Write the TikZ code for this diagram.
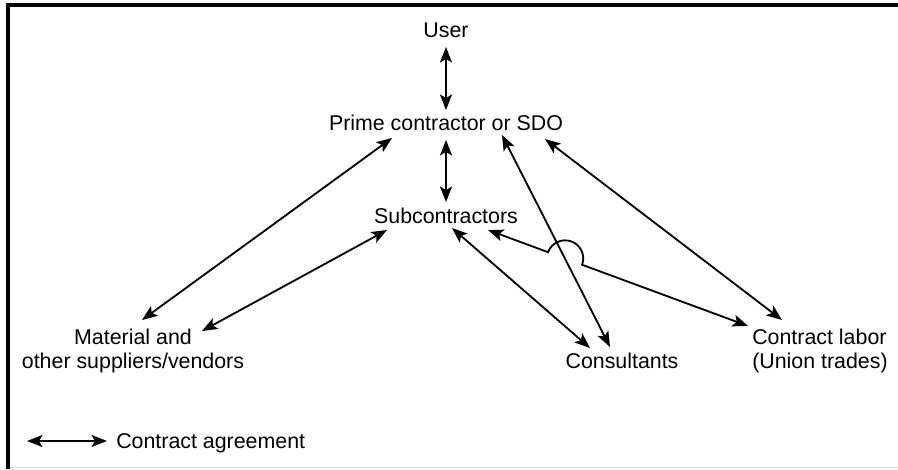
\documentclass[tikz,border=0pt]{standalone}
\usepackage{fontspec}
\setmainfont{Liberation Sans}
\usetikzlibrary{arrows.meta,calc}

\begin{document}
\begin{tikzpicture}[x=0.025cm, y=0.025cm,
  agree/.style={{Stealth[length=11pt,width=8.5pt,inset=2.5pt]}-{Stealth[length=11pt,width=8.5pt,inset=2.5pt]}, line width=1.3pt},
  party/.style={font=\fontsize{15.2}{16.4}\selectfont, inner sep=0pt, anchor=base}]
\useasboundingbox (0,0) rectangle (898,469);

%frame
\draw[gray!25, line width=0.6pt] (8,2) -- (898,2);
\draw[line width=2.2pt] (8,0) -- (8,464) -- (898,464);

%parties
\node[party] (user) at (446,431) {User};
\node[party] (prime) at (446,339) {Prime contractor or SDO};
\node[party] (sub) at (446,246) {Subcontractors};
\node[party, align=center] (mat) at (133,101) {Material and\\other suppliers/vendors};
\node[party] (cons) at (622,101) {Consultants};
\node[party, anchor=base west, align=left] (lab) at (752,101) {Contract labor\\(Union trades)};

%key
\node[party, anchor=base west] (key) at (116,21) {Contract agreement};
\coordinate (keyend) at (27,28);

%agreements
\draw[agree] ($(user.base)+(0,-9)$) -- ($(prime.base)+(0,20)$);
\draw[agree] ($(prime.base)+(0,-10)$) -- ($(sub.base)+(0,21)$);
\draw[agree] ($(prime.base)+(-54,-8)$) -- ($(mat.base)+(9,48)$);
\draw[agree] ($(sub.base)+(-59,-7)$) -- ($(mat.base)+(69,37)$);
\draw[agree] ($(sub.base)+(6,-5)$) -- ($(cons.base)+(-32,20)$);
\draw[agree] ($(prime.base)+(56,-5)$) -- ($(cons.base)+(-12,21)$);
\draw[agree] ($(prime.base)+(99,-9)$) -- ($(lab.base west)+(30,48)$);
\draw[agree] ($(sub.base)+(42,-7)$) -- ($($(sub.base)+(42,-7)$)!0.231!($(lab.base west)+(-4,42)$)$)
  arc[start angle=159.7, end angle=-20.3, radius=18.15] -- ($(lab.base west)+(-4,42)$);
\draw[agree] (keyend) -- ($(key.base west)+(-9,7)$);
\end{tikzpicture}
\end{document}
